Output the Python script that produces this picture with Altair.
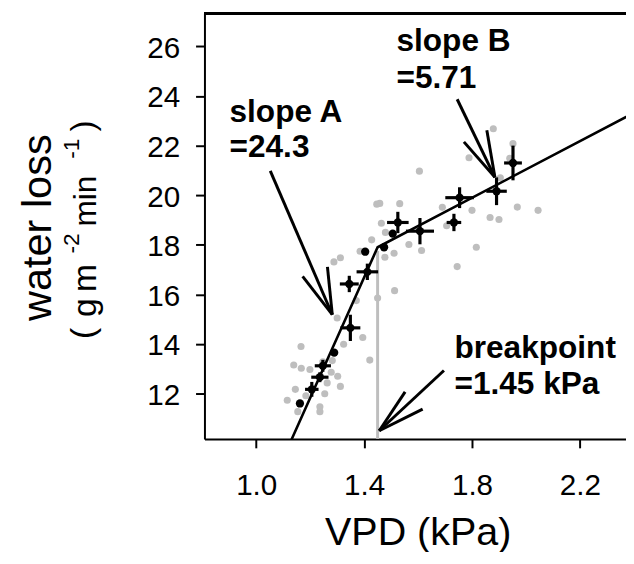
import altair as alt
import pandas as pd

# ---------------- data ----------------
raw_x = [1.115, 1.154, 1.145, 1.139, 1.166, 1.167, 1.199, 1.184, 1.236, 1.236,
         1.254, 1.263, 1.278, 1.247, 1.282, 1.302, 1.312, 1.324, 1.300, 1.288,
         1.312, 1.371, 1.395, 1.421, 1.450, 1.513, 1.385, 1.428, 1.447, 1.458,
         1.532, 1.464, 1.479, 1.477, 1.511, 1.566, 1.613, 1.605, 1.690, 1.706,
         1.745, 1.816, 1.800, 1.789, 1.867, 1.900, 1.879, 1.952, 1.940, 1.905,
         1.968, 2.045]
raw_y = [11.73, 11.27, 12.17, 13.15, 13.90, 13.02, 12.97, 11.91, 11.47, 11.27,
         11.99, 12.43, 12.86, 13.28, 13.33, 12.70, 12.29, 13.99, 15.05, 17.31,
         17.48, 15.75, 14.26, 13.35, 15.85, 16.15, 17.74, 18.20, 19.64, 19.67,
         19.66, 18.87, 18.50, 17.50, 17.66, 18.01, 17.77, 20.97, 19.51, 18.77,
         17.12, 17.90, 19.39, 21.51, 19.10, 19.02, 22.68, 22.08, 21.49, 20.70,
         19.52, 19.39]

mean_x = [1.162, 1.206, 1.236, 1.247, 1.289, 1.349, 1.345, 1.412, 1.404,
          1.474, 1.506, 1.525, 1.607, 1.733, 1.754, 1.891, 1.952]
mean_y = [11.60, 12.17, 12.66, 13.12, 13.65, 14.65, 16.42, 16.91, 17.72,
          17.90, 18.45, 18.90, 18.55, 18.90, 19.90, 20.16, 21.30]
mean_xerr = [0.010, 0.025, 0.032, 0.030, 0.012, 0.037, 0.035, 0.040, 0.0,
             0.012, 0.0, 0.040, 0.052, 0.027, 0.053, 0.038, 0.033]
mean_yerr = [0.10, 0.30, 0.20, 0.24, 0.10, 0.53, 0.33, 0.33, 0.0,
             0.15, 0.0, 0.43, 0.53, 0.35, 0.42, 0.56, 0.70]

fit_x = [1.10, 1.45, 2.40]
fit_y = [9.395, 17.90, 23.32]

break_x = [1.45]
break_lo = [10.17]
break_hi = [17.75]

ann_x = [0.901, 0.901, 1.520, 1.520, 1.735, 1.735]
ann_y = [22.95, 21.55, 25.80, 24.34, 13.45, 12.00]
ann_text = ["slope A", "=24.3", "slope B", "=5.71", "breakpoint", "=1.45 kPa"]

arrow_x1 = [1.052, 1.282, 1.282, 1.745, 1.885, 1.885, 1.696, 1.456, 1.456]
arrow_y1 = [20.98, 15.18, 15.18, 23.87, 20.72, 20.72, 12.93, 10.50, 10.50]
arrow_x2 = [1.282, 1.172, 1.264, 1.885, 1.770, 1.855, 1.456, 1.552, 1.617]
arrow_y2 = [15.18, 16.73, 17.11, 20.72, 22.15, 22.62, 10.50, 12.07, 11.37]

x_ticks = [1.0, 1.4, 1.8, 2.2]
y_ticks = [12, 14, 16, 18, 20, 22, 24, 26]

X_DOMAIN = [0.808, 2.371]
Y_DOMAIN = [10.17, 27.33]
W, H = 427, 431
FONT = "Liberation Sans"
GREY = "#BEBEBE"

# ---------------- tables ----------------
raw_df = pd.DataFrame({"x": raw_x, "y": raw_y})
mean_df = pd.DataFrame({"x": mean_x, "y": mean_y, "xe": mean_xerr, "ye": mean_yerr})
mean_df["xlo"] = mean_df.x - mean_df.xe
mean_df["xhi"] = mean_df.x + mean_df.xe
mean_df["ylo"] = mean_df.y - mean_df.ye
mean_df["yhi"] = mean_df.y + mean_df.ye
fit_df = pd.DataFrame({"x": fit_x, "y": fit_y})
break_df = pd.DataFrame({"x": break_x, "y": break_lo, "y2": break_hi})
ann_df = pd.DataFrame({"x": ann_x, "y": ann_y, "t": ann_text})
arr_df = pd.DataFrame({"x": arrow_x1, "y": arrow_y1, "x2": arrow_x2, "y2": arrow_y2})

xs = alt.Scale(domain=X_DOMAIN, nice=False, zero=False)
ys = alt.Scale(domain=Y_DOMAIN, nice=False, zero=False)

x_axis = alt.Axis(values=x_ticks, format=".1f", tickSize=9, tickWidth=2, tickColor="black",
                  domainWidth=2, domainColor="black", labelFontSize=30, labelFont=FONT,
                  labelColor="black", labelPadding=23, labelFlush=False, labelOverlap=False,
                  grid=False, title="VPD (kPa)", titleFont=FONT, titleFontSize=40,
                  titleFontWeight="normal", titleColor="black", titleBaseline="alphabetic",
                  titleY=107, titleX=216)
y_axis = alt.Axis(values=y_ticks, format="d", tickSize=9, tickWidth=2, tickColor="black",
                  domainWidth=2, domainColor="black", labelFontSize=30, labelFont=FONT,
                  labelColor="black", labelPadding=16, labelOffset=2, labelFlush=False,
                  labelOverlap=False, grid=False, title=None)

raw = alt.Chart(raw_df).mark_circle(color=GREY, opacity=1, size=52).encode(
    x=alt.X("x:Q", scale=xs, axis=x_axis), y=alt.Y("y:Q", scale=ys, axis=y_axis))

brk = alt.Chart(break_df).mark_rule(color=GREY, strokeWidth=3).encode(
    x="x:Q", y="y:Q", y2="y2:Q")

fit = alt.Chart(fit_df).mark_line(color="black", strokeWidth=2.6, clip=True).encode(
    x="x:Q", y="y:Q")

ebx = alt.Chart(mean_df).mark_rule(color="black", strokeWidth=3.2).encode(
    x="xlo:Q", x2="xhi:Q", y="y:Q")
eby = alt.Chart(mean_df).mark_rule(color="black", strokeWidth=3.2).encode(
    x="x:Q", y="ylo:Q", y2="yhi:Q")
means = alt.Chart(mean_df).mark_circle(color="black", opacity=1, size=70).encode(
    x="x:Q", y="y:Q")

arrows = alt.Chart(arr_df).mark_rule(color="black", strokeWidth=3).encode(
    x="x:Q", y="y:Q", x2="x2:Q", y2="y2:Q")

ann = alt.Chart(ann_df).mark_text(font=FONT, fontSize=32, fontWeight="bold", color="black",
                                  align="left", baseline="alphabetic").encode(
    x="x:Q", y="y:Q", text="t:N")

top_line = alt.Chart(raw_df).mark_rule(color="black", strokeWidth=2).encode(
    x=alt.value(0), x2=alt.value(W), y=alt.value(0))

def ytitle(txt, px, py, size):
    return alt.Chart(raw_df.head(1)).mark_text(
        font=FONT, fontSize=size, angle=270, align="center", baseline="alphabetic",
        color="black").encode(x=alt.value(px), y=alt.value(py), text=alt.value(txt))

titles = [
    ytitle("water loss", -155, 217, 42),
    ytitle("(", -112, 324, 34),
    ytitle("g", -110, 298, 34),
    ytitle("m", -110, 268, 34),
    ytitle("-2", -127, 233, 23),
    ytitle("min", -110, 190, 32),
    ytitle("-1", -127, 137, 23),
    ytitle(")", -112, 114, 34),
]

chart = alt.layer(raw, brk, fit, ebx, eby, means, arrows, ann, top_line, *titles).properties(
    width=W, height=H,
    padding={"left": 199, "top": 2, "right": 0, "bottom": 111},
    autosize=alt.AutoSizeParams(type="none"),
).configure_view(strokeWidth=0).configure(font=FONT)

chart.save("out.html", embed_options={"renderer": "svg", "actions": False})
